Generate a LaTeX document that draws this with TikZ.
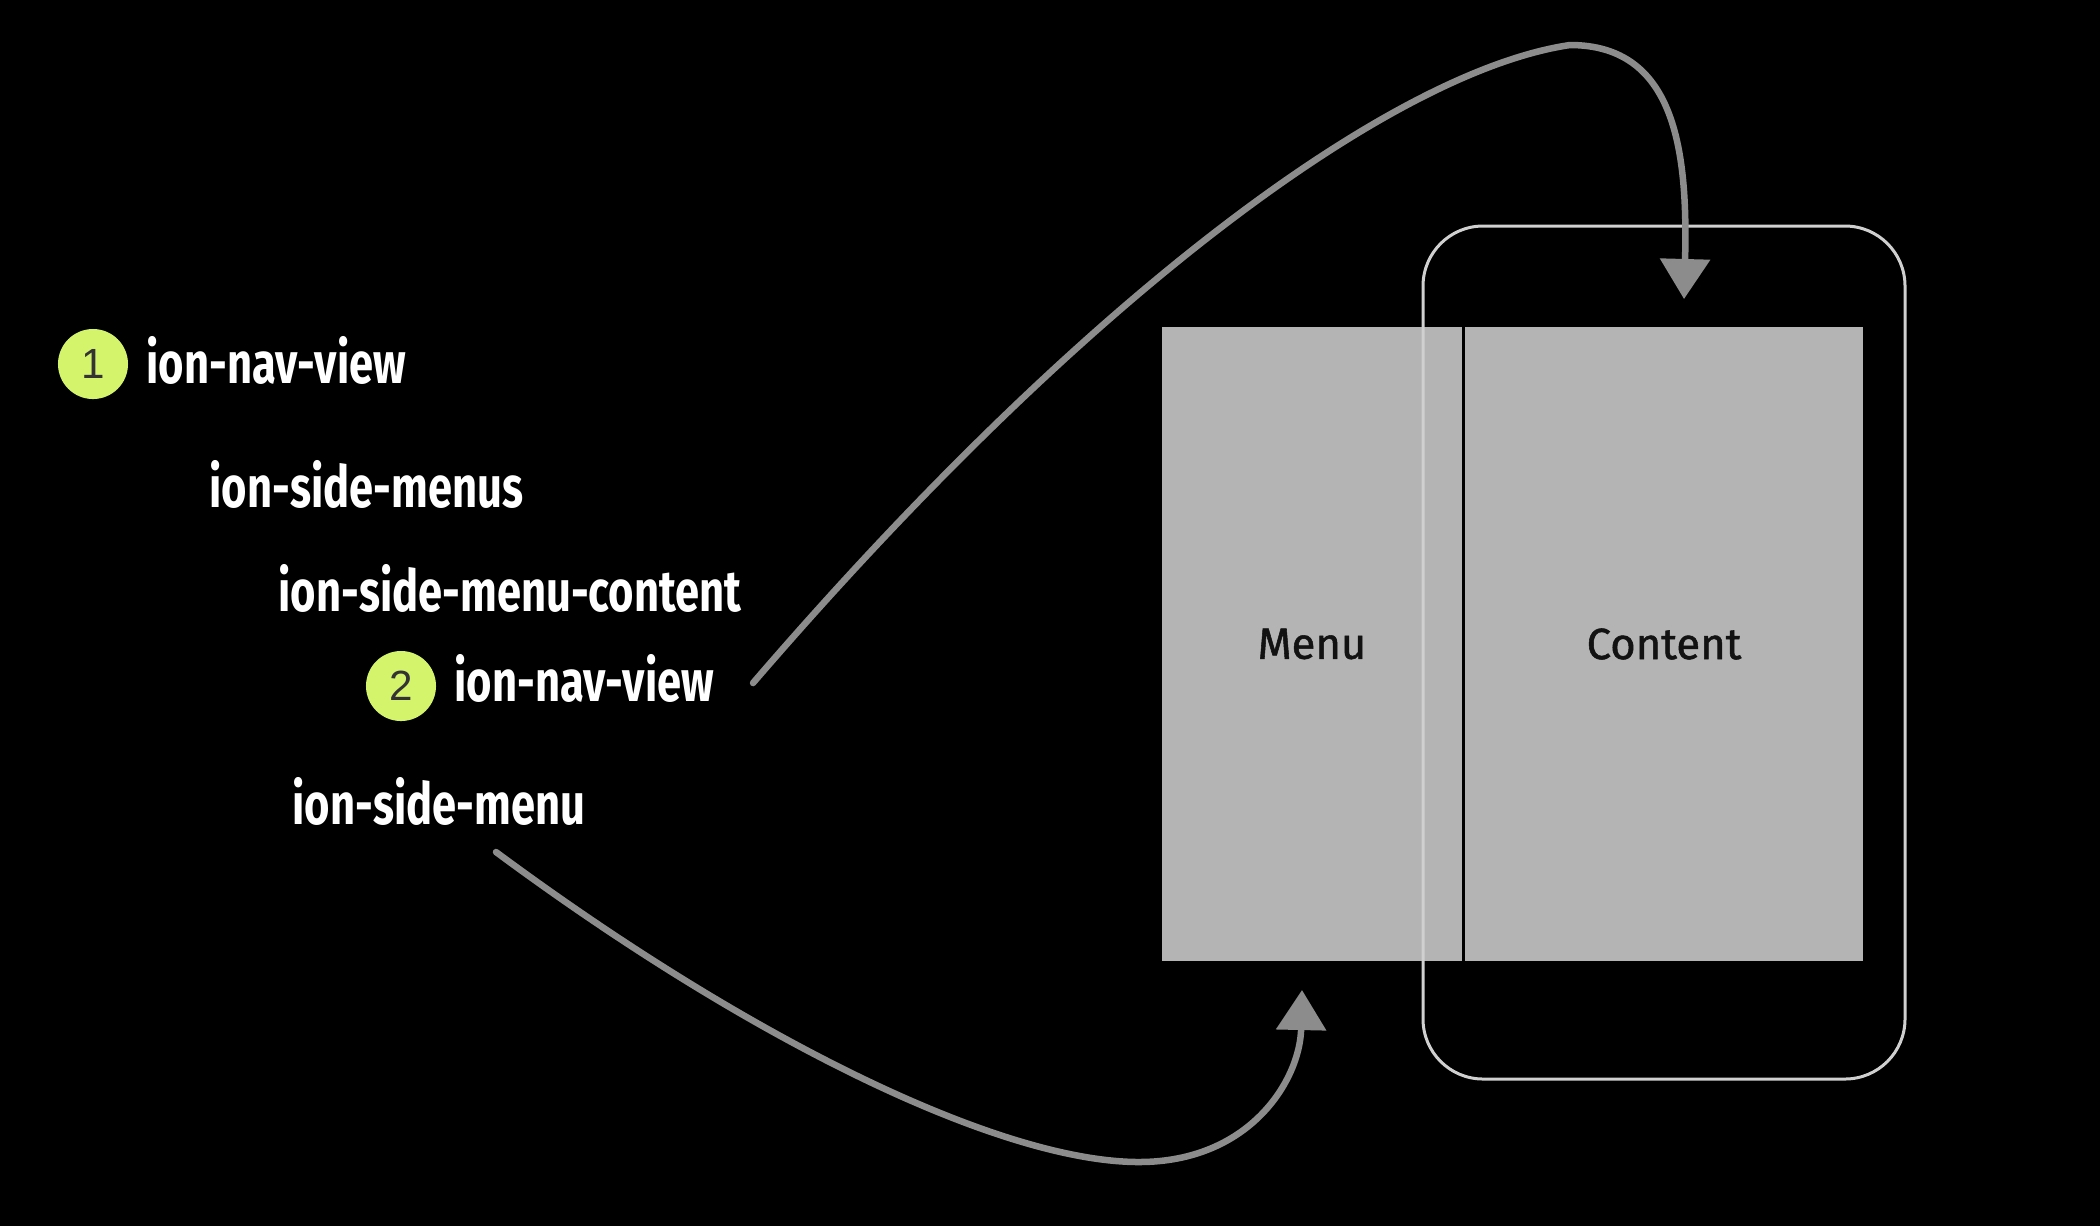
\documentclass[tikz,border=0pt]{standalone}
\usepackage{fontspec}
\setmainfont{Fira Sans}
\newfontfamily\labfont{Fira Sans}[FakeStretch=0.75]
\newfontfamily\panelfont{Fira Sans}[FakeBold=1.2]
\newfontfamily\numfont{Liberation Sans}
\usetikzlibrary{arrows.meta,calc}
\definecolor{lime}{HTML}{D4F46C}
\definecolor{boxgray}{HTML}{B4B4B4}
\definecolor{arrowgray}{HTML}{8C8C8C}
\definecolor{phoneline}{HTML}{D0D0D0}
\begin{document}
\begin{tikzpicture}[x=0.01cm,y=-0.01cm,
  lab/.style={anchor=base west,inner sep=0pt,text=white,font=\labfont\bfseries\fontsize{16.5}{18}\selectfont},
  badge/.style={circle,fill=lime,minimum size=0.7cm,inner sep=0pt,text=black!80,font=\numfont\fontsize{12}{13}\selectfont},
  panel/.style={rectangle,fill=boxgray,draw=none,inner sep=0pt,text=black!93,font=\panelfont\fontsize{12.4}{14}\selectfont},
  flow/.style={draw=arrowgray,line width=0.065cm,line cap=round,-{Triangle[length=0.4cm,width=0.49cm]}},
  phone/.style={draw=phoneline,line width=0.03cm,rounded corners=0.6cm}
]
\fill[black] (0,0) rectangle (2100,1226);
\useasboundingbox (0,0) rectangle (2100,1226);

% left labels
\node[badge] (b1) at (93,364) {1};
\node[lab] (nav1) at (146,383) {ion-nav-view};
\node[lab] (menus) at (209,507) {ion-side-menus};
\node[lab] (smc) at (278,611) {ion-side-menu-content};
\node[badge] (b2) at (401,686) {2};
\node[lab] (nav2) at (454,701) {ion-nav-view};
\node[lab] (sm) at (292,824) {ion-side-menu};

% panels
\node[panel,minimum width=3.0cm,minimum height=6.34cm] (menu) at (1312,644) {Menu};
\node[panel,minimum width=3.98cm,minimum height=6.34cm] (content) at (1664,644) {Content};

% phone outline
\draw[phone] (1423,226) rectangle (1905,1079);

% connectors
\coordinate (a1s) at (753,683);
\coordinate (a1e) at (1684,299);
\coordinate (a2s) at (496,852);
\coordinate (a2e) at (1302,990);
\draw[flow] (a1s) .. controls (1100,280) and (1400,70) .. (1570,45)
  .. controls (1675,45) and (1688,150) .. (a1e);
\draw[flow] (a2s) .. controls (750,1040) and (1000,1162) .. (1139,1162)
  .. controls (1250,1162) and (1300,1080) .. (a2e);
\end{tikzpicture}
\end{document}
